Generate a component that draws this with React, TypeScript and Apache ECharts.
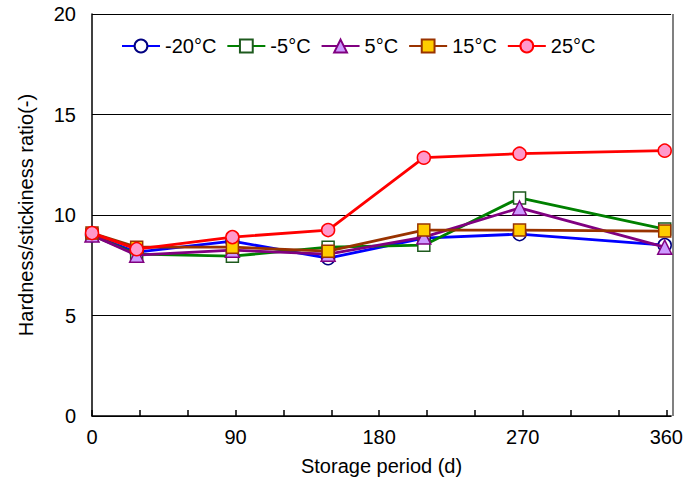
import React, { useEffect, useRef } from "react";
import * as echarts from "echarts";

const days = [0, 28, 88, 148, 208, 268, 359];
const seriesNames = ["-20°C", "-5°C", "5°C", "15°C", "25°C"];
const m20 = [9.0, 8.15, 8.7, 7.85, 8.85, 9.05, 8.5];
const m5 = [9.0, 8.05, 7.95, 8.4, 8.5, 10.85, 9.3];
const p5 = [9.0, 8.0, 8.25, 8.05, 8.9, 10.35, 8.4];
const p15 = [9.1, 8.4, 8.4, 8.2, 9.25, 9.25, 9.2];
const p25 = [9.1, 8.3, 8.9, 9.25, 12.85, 13.05, 13.2];
const xTicks = [0, 30, 60, 90, 120, 150, 180, 210, 240, 270, 300, 330, 360];
const xLabels = [0, 90, 180, 270, 360];

const FONT = "'Liberation Sans', Arial, sans-serif";

export default function App() {
  const ref = useRef<HTMLDivElement>(null);
  useEffect(() => {
    document.body.style.margin = "0";
    if (!ref.current) return;
    const chart = echarts.init(ref.current, null, { renderer: "svg" });
    const values = [m20, m5, p5, p15, p25];
    const styles = [
      { line: "#0000FF", fill: "#FFFFFF", border: "#000080", symbol: "circle", size: 13 },
      { line: "#008000", fill: "#FFFFFF", border: "#1E5A1E", symbol: "rect", size: 12 },
      { line: "#800080", fill: "#CC99FF", border: "#800080", symbol: "triangle", size: 14 },
      { line: "#993300", fill: "#FFCC00", border: "#993300", symbol: "rect", size: 12 },
      { line: "#FF0000", fill: "#FF99CC", border: "#FF0000", symbol: "circle", size: 13 },
    ];
    const series = seriesNames.map((name, i) => ({
      name,
      type: "line",
      data: days.map((d, j) => [d, values[i][j]]),
      symbol: styles[i].symbol,
      symbolSize: styles[i].size,
      showAllSymbol: true,
      lineStyle: { color: styles[i].line, width: 2.8 },
      itemStyle: { color: styles[i].fill, borderColor: styles[i].border, borderWidth: 1.5 },
      z: 2 + i,
    }));
    chart.setOption({
      animation: false,
      backgroundColor: "#ffffff",
      textStyle: { fontFamily: FONT },
      grid: { left: 92, top: 14, right: 13, bottom: 68, containLabel: false },
      legend: {
        data: seriesNames,
        left: 116,
        top: 31,
        padding: 5,
        itemWidth: 38,
        itemHeight: 16,
        itemGap: 10,
        textStyle: { fontSize: 20, color: "#000", fontFamily: FONT },
      },
      xAxis: {
        type: "value",
        min: 0,
        max: 363,
        name: "Storage period (d)",
        nameLocation: "middle",
        nameGap: 40,
        nameTextStyle: { fontSize: 20, color: "#000", fontFamily: FONT },
        axisLine: { show: true, lineStyle: { color: "#000", width: 1.5 } },
        axisTick: { show: true, inside: true, length: 6, customValues: xTicks, lineStyle: { color: "#000", width: 1.5 } },
        axisLabel: { customValues: xLabels, fontSize: 20, color: "#000", margin: 11, fontFamily: FONT },
        splitLine: { show: false },
      },
      yAxis: {
        type: "value",
        min: 0,
        max: 20,
        interval: 5,
        name: "Hardness/stickiness ratio(-)",
        nameLocation: "middle",
        nameGap: 56,
        nameTextStyle: { fontSize: 20, color: "#000", fontFamily: FONT },
        axisLine: { show: true, lineStyle: { color: "#000", width: 1.5 } },
        axisTick: { show: true, inside: true, length: 5, lineStyle: { color: "#000" } },
        axisLabel: { fontSize: 20, color: "#000", margin: 16, fontFamily: FONT },
        splitLine: { show: true, lineStyle: { color: "#000", width: 1 } },
      },
      graphic: [
        {
          type: "line",
          shape: { x1: 673, y1: 14, x2: 673, y2: 416 },
          style: { stroke: "#808080", lineWidth: 2 },
          z: 1,
        },
      ],
      series,
    });
    return () => chart.dispose();
  }, []);
  return <div ref={ref} style={{ width: 686, height: 484 }} />;
}
